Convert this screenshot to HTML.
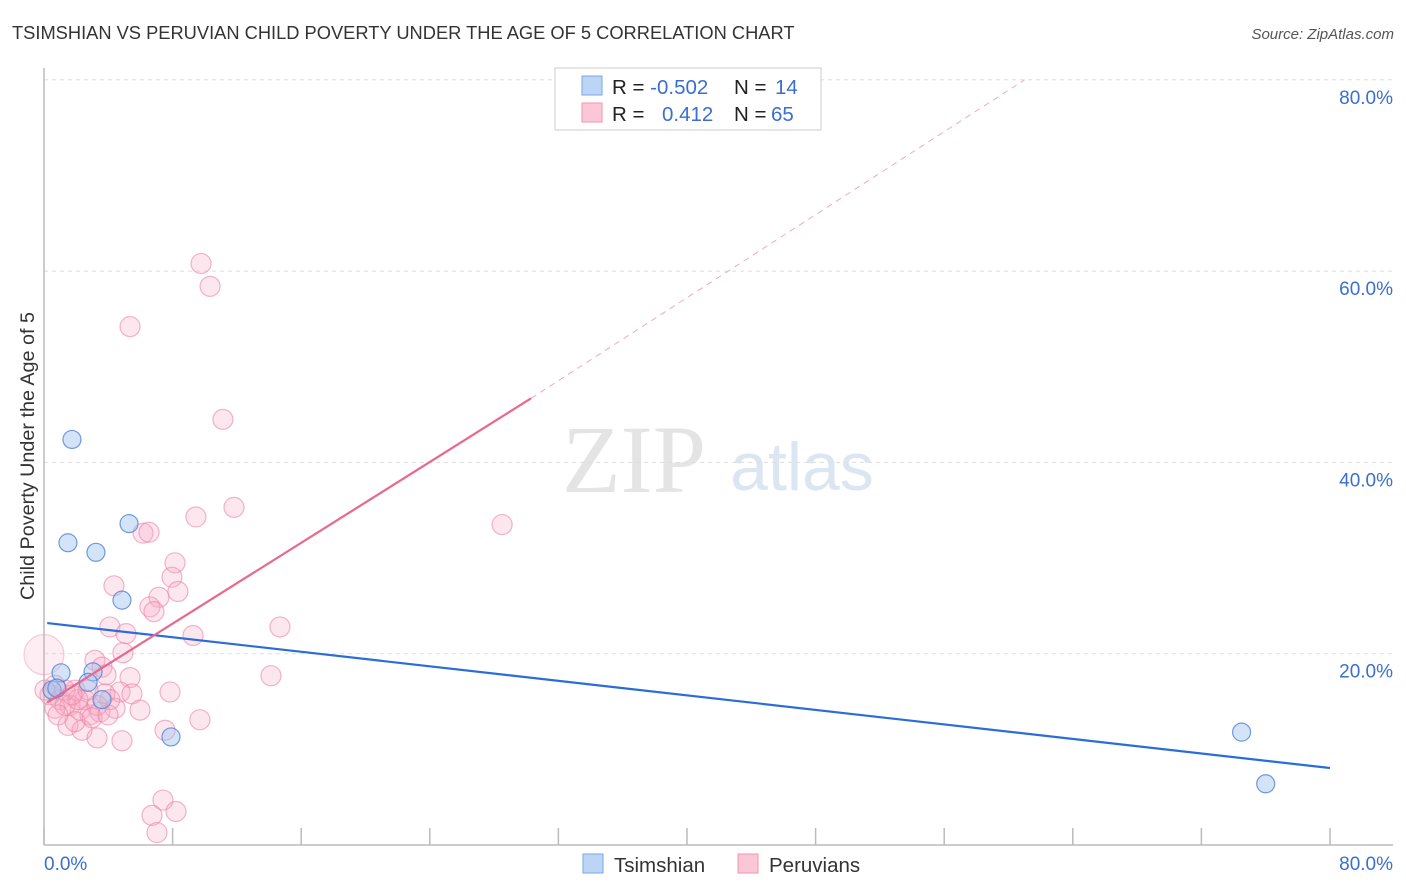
<!DOCTYPE html>
<html><head><meta charset="utf-8"><style>
body{margin:0;background:#fff;font-family:"Liberation Sans",sans-serif;}
#wrap{position:relative;width:1406px;height:892px;overflow:hidden}
</style></head><body>
<div id="wrap">
<svg id="svg" width="1406" height="892" xmlns="http://www.w3.org/2000/svg">
<text x="12" y="39" font-size="18.3" fill="#333">TSIMSHIAN VS PERUVIAN CHILD POVERTY UNDER THE AGE OF 5 CORRELATION CHART</text>
<text x="1394" y="39" font-size="15" fill="#555" font-style="italic" text-anchor="end">Source: ZipAtlas.com</text>
<text x="634" y="492" font-size="96" fill="#e4e4e4" font-family="Liberation Serif,serif" text-anchor="middle">ZIP</text>
<text x="802" y="490" font-size="68" fill="#dce6f3" text-anchor="middle">atlas</text>
<text transform="translate(34,456) rotate(-90)" font-size="19.8" fill="#333" text-anchor="middle">Child Poverty Under the Age of 5</text>
<g id="grid"></g><g id="marks"></g><g id="lines"></g>
<g>
<rect x="555" y="68" width="266" height="62" fill="#fff" stroke="#ccc"/>
<rect x="582" y="76" width="20" height="19" fill="#bcd5f5" stroke="#7aa6e6"/>
<rect x="582" y="103" width="20" height="19" fill="#fcc8d7" stroke="#f096b2"/>
<text x="612" y="94" font-size="20.5" fill="#222">R = <tspan fill="#3a6fd0">-0.502</tspan></text>
<text x="734" y="94" font-size="20.5" fill="#222">N = <tspan fill="#3a6fd0" x="775">14</tspan></text>
<text x="612" y="121" font-size="20.5" fill="#222">R = <tspan fill="#3a6fd0" x="662">0.412</tspan></text>
<text x="734" y="121" font-size="20.5" fill="#222">N = <tspan fill="#3a6fd0" x="771">65</tspan></text>
</g>
<g>
<rect x="583" y="854" width="20" height="19" fill="#bcd5f5" stroke="#7aa6e6"/>
<text x="614" y="872" font-size="20.5" fill="#333">Tsimshian</text>
<rect x="738" y="854" width="20" height="19" fill="#fcc8d7" stroke="#f096b2"/>
<text x="769" y="872" font-size="20.5" fill="#333">Peruvians</text>
</g>
</svg>
</div>
<script>
const yTicks=[20,40,60,80];
const yTickLabels=["20.0%","40.0%","60.0%","80.0%"];
const xTicks=[0,8,16,24,32,40,48,56,64,72,80];
const tsX=[1.74,1.49,3.23,5.29,4.85,1.06,3.05,2.74,3.61,7.9,74.5,76.0,0.5,0.8];
const tsY=[42.4,31.6,30.6,33.6,25.6,18.0,18.1,17.0,15.2,11.3,11.8,6.4,16.2,16.4];
const peX=[9.77,10.33,5.35,11.13,11.82,9.45,6.16,6.53,28.5,8.15,4.35,7.96,8.33,7.15,6.59,6.84,4.1,5.1,9.27,14.68,4.91,3.17,14.12,3.61,5.35,3.86,1.93,2.55,4.73,5.47,3.79,7.84,1.0,1.62,2.24,2.86,3.48,4.42,5.97,0.37,0.68,1.31,2.11,3.3,1.49,2.36,3.3,4.85,7.53,9.7,7.4,6.72,8.21,7.03,1.31,2.74,4.1,0.0,0.68,1.93,2.99,3.98,0.06,0.87,1.74];
const peY=[60.8,58.4,54.2,44.5,35.3,34.3,32.6,32.7,33.5,29.5,27.1,28.0,26.5,25.9,24.9,24.4,22.8,22.1,21.9,22.8,20.1,19.3,17.7,18.6,17.5,17.8,16.2,15.2,16.0,15.8,15.8,16.0,15.2,14.6,14.1,13.6,13.9,14.3,14.1,15.7,14.3,14.6,15.2,14.6,12.5,12.0,11.2,10.9,12.0,13.1,4.7,3.1,3.5,1.3,16.2,16.2,15.2,19.9,16.7,12.9,13.3,13.6,16.2,13.6,15.7];
const peR=peX.map((v,i)=>i===57?20:10);
const tsLine=[0.2,23.2,80,8.05];
const peLine=[0.2,14.9,30.3,46.7];
const peDash=[30.3,46.7,61.0,80];
const X=v=>44+v/80*1286, Y=v=>845-v/20*191.3;
const NS="http://www.w3.org/2000/svg";
function mk(t,a,p){const e=document.createElementNS(NS,t);for(const k in a)e.setAttribute(k,a[k]);p.appendChild(e);return e;}
const grid=document.getElementById('grid'),marks=document.getElementById('marks'),lines=document.getElementById('lines');
yTicks.forEach((t,i)=>{
 const l=mk('line',{x1:44,x2:1393,y1:Y(t),y2:Y(t),stroke:'#ddd','stroke-dasharray':'4,4'},grid);
 
 
 const tx=mk('text',{x:1393,y:Y(t)+24,'font-size':19,fill:'#3a6fd0','text-anchor':'end'},grid);
 tx.textContent=yTickLabels[i];
 
 
});
const ax=mk('line',{x1:44,x2:1393,y1:845,y2:845,stroke:'#bbb','stroke-width':1.5},grid);


const ay=mk('line',{x1:44,x2:44,y1:68,y2:845,stroke:'#bbb','stroke-width':1.5},grid);


xTicks.forEach(t=>{
 const l=mk('line',{x1:X(t),x2:X(t),y1:828,y2:845,stroke:'#bbb','stroke-width':1.5},grid);
 
 
});
const xl0=mk('text',{x:44,y:870,'font-size':19,fill:'#3a6fd0'},grid);xl0.textContent='0.0%';


const xl1=mk('text',{x:1393,y:870,'font-size':19,fill:'#3a6fd0','text-anchor':'end'},grid);xl1.textContent='80.0%';


peX.forEach((v,i)=>{
 const big=peR[i]>10;
 const c=mk('circle',{cx:X(v),cy:Y(peY[i]),r:peR[i],fill:big?'rgba(248,170,195,0.2)':'rgba(248,170,195,0.28)',stroke:big?'rgba(236,130,165,0.4)':'rgba(236,130,165,0.6)','stroke-width':1.2},marks);
 
 
});
tsX.forEach((v,i)=>{
 const c=mk('circle',{cx:X(v),cy:Y(tsY[i]),r:9,fill:'rgba(160,195,240,0.45)',stroke:'rgba(80,130,215,0.8)','stroke-width':1.2},marks);
 
 
});
const l1=mk('line',{x1:X(tsLine[0]),y1:Y(tsLine[1]),x2:X(tsLine[2]),y2:Y(tsLine[3]),stroke:'#2a6dd8','stroke-width':2.2},lines);


const l2=mk('line',{x1:X(peLine[0]),y1:Y(peLine[1]),x2:X(peLine[2]),y2:Y(peLine[3]),stroke:'#e8688f','stroke-width':2.2},lines);


const l3=mk('line',{x1:X(peDash[0]),y1:Y(peDash[1]),x2:X(peDash[2]),y2:Y(peDash[3]),stroke:'#eeaabd','stroke-width':1,'stroke-dasharray':'6,5'},lines);


</script>
</body></html>
